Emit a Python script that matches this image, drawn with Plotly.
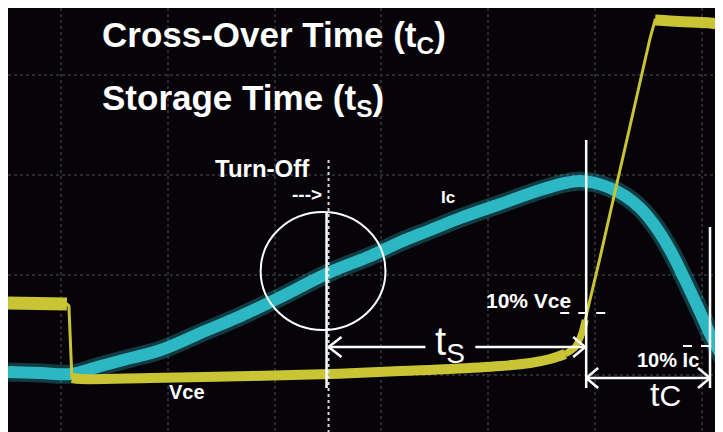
import plotly.graph_objects as go

# screen units: x = time sample (0..716), y = screen level (0..424)
vce_t = [0, 59, 61, 64, 73, 143, 243, 323, 393, 443, 493, 523, 543, 558, 568,
         574, 578, 583, 593, 603, 610, 618, 628, 638, 643, 648, 663, 683, 703, 716]
vce_v = [129, 128, 126, 54, 53, 54, 56, 58, 61, 63, 66, 69, 73, 78, 85,
         97, 112, 132, 175, 219, 250, 286, 329, 372, 394, 412, 411, 410, 409, 407]

ic_t = [0, 33, 63, 93, 123, 153, 193, 233, 273, 323, 363, 393, 423, 453, 493,
        533, 558, 573, 588, 603, 618, 633, 648, 663, 678, 693, 705, 716]
ic_v = [60, 59, 58, 66, 74, 82, 99, 116, 135, 160, 176, 190, 202, 214, 228,
        242, 249, 251, 249, 244, 236, 224, 206, 182, 152, 120, 94, 74]

grid_x = [53, 160, 267, 374, 481, 588, 695]
grid_y = [57, 157, 257, 357]

YELLOW = "#c8c434"
CYAN = "#2bb8c4"
WHITE = "white"
FONT = "Liberation Sans, Arial, sans-serif"

fig = go.Figure()

# Ic: soft halo + noisy band
fig.add_trace(go.Scatter(x=ic_t, y=ic_v, mode="lines", line=dict(color=CYAN, width=19, shape="spline"),
                         opacity=0.3, hoverinfo="skip"))
fig.add_trace(go.Scatter(x=ic_t, y=ic_v, mode="lines", line=dict(color=CYAN, width=12, shape="spline"),
                         hoverinfo="skip"))

# Vce: thin full trace, thick band on the flat parts
fig.add_trace(go.Scatter(x=vce_t, y=vce_v, mode="lines", line=dict(color=YELLOW, width=3),
                         hoverinfo="skip"))
for a, b, w in [(0, 2, 13), (3, 14, 10), (13, 17, 7), (25, 30, 11)]:
    fig.add_trace(go.Scatter(x=vce_t[a:b], y=vce_v[a:b], mode="lines",
                             line=dict(color=YELLOW, width=w, shape="spline"), hoverinfo="skip"))

shapes = []


def seg(x0, y0, x1, y1, w=2.5, dash="solid", color=WHITE):
    shapes.append(dict(type="line", xref="x", yref="y", x0=x0, y0=y0, x1=x1, y1=y1,
                       line=dict(color=color, width=w, dash=dash)))


# turn-off marker
seg(321, 272, 321, 0, w=2, dash="dot", color="#d8d8d8")
seg(319, 220, 319, 44)
shapes.append(dict(type="circle", xref="x", yref="y", x0=253, y0=102, x1=378, y1=220,
                   line=dict(color=WHITE, width=2)))

# ts arrow
seg(321, 85, 418, 85)
seg(321, 85, 334, 95)
seg(321, 85, 334, 75)
seg(468, 85, 578, 85)
seg(578, 85, 566, 95)
seg(578, 85, 566, 75)

# edges of tc
seg(579, 292, 579, 44)
seg(703, 205, 703, 44)
seg(553, 119, 600, 119, w=2, dash="dash")
seg(676, 86, 716, 86, w=2, dash="dash")

# tc arrow
seg(579, 54, 703, 54)
seg(579, 54, 591, 64)
seg(579, 54, 591, 44)
seg(703, 54, 691, 64)
seg(703, 54, 691, 44)

fig.update_layout(shapes=shapes)


def label(x, y, text, size, bold=True, xanchor="center"):
    fig.add_annotation(x=x, y=y, xref="x", yref="y", text=f"<b>{text}</b>" if bold else text,
                       showarrow=False, xanchor=xanchor, yanchor="middle",
                       font=dict(family=FONT, size=size, color=WHITE))


label(92, 395, "Cross-Over Time (t<sub>C</sub>)", 35, xanchor="left")
label(92, 332, "Storage Time (t<sub>S</sub>)", 35, xanchor="left")
label(255, 264, "Turn-Off", 24)
label(299, 238, "--->", 19)
label(441, 235, "Ic", 17)
label(179, 40, "Vce", 20)
label(521, 132, "10% Vce", 21)
label(661, 72, "10% Ic", 20)
label(426, 88, "t<sub>S</sub>", 40, bold=False, xanchor="left")
label(641, 38, "t<span style='font-size:30px'>C</span>", 34, bold=False, xanchor="left")

fig.update_xaxes(range=[0, 716], tickvals=grid_x, showticklabels=False, showgrid=True,
                 gridcolor="#2a2a30", gridwidth=2, griddash="dot", zeroline=False, showline=False)
fig.update_yaxes(range=[0, 424], tickvals=grid_y, showticklabels=False, showgrid=True,
                 gridcolor="#2a2a30", gridwidth=2, griddash="dot", zeroline=False, showline=False)

# page body adds an 8px offset, so the black screen starts right at the paper corner
fig.update_layout(
    width=723, height=432,
    margin=dict(l=0, r=8, t=0, b=8),
    paper_bgcolor="white",
    plot_bgcolor="#060409",
    showlegend=False,
)

fig.write_html("out.html", config=dict(displayModeBar=False))
